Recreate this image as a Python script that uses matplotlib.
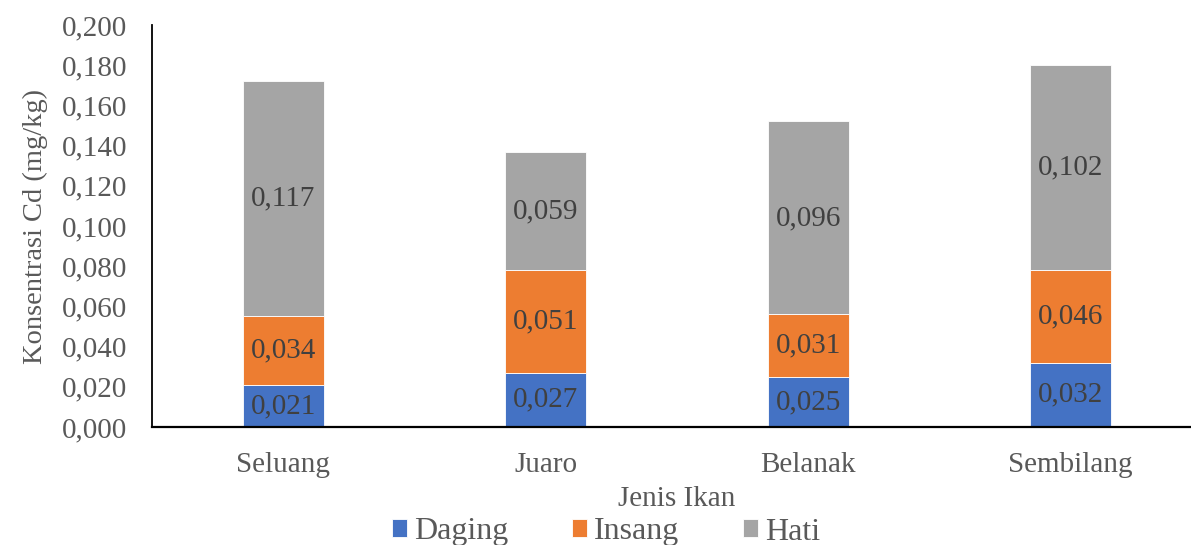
import numpy as np
import matplotlib.pyplot as plt
from matplotlib.ticker import FuncFormatter

# data
jenis_ikan = ['Seluang', 'Juaro', 'Belanak', 'Sembilang']
daging = [0.021, 0.027, 0.025, 0.032]
insang = [0.034, 0.051, 0.031, 0.046]
hati = [0.117, 0.059, 0.096, 0.102]
warna = ['#4472C4', '#ED7D31', '#A5A5A5']

plt.rcParams['font.family'] = ['Liberation Serif', 'DejaVu Serif']
abu = '#595959'

fig = plt.figure(figsize=(11.91, 5.45), dpi=100)
ax = fig.add_axes([152 / 1191, (545 - 427) / 545, 1050 / 1191, 402 / 545])

x = np.arange(len(jenis_ikan))
bawah = np.zeros(len(x))
for nama, nilai, c in zip(['Daging', 'Insang', 'Hati'], [daging, insang, hati], warna):
    bars = ax.bar(x, nilai, 0.31, bottom=bawah, color=c, label=nama,
                  edgecolor='white', linewidth=0.6)
    for b, v in zip(bars, nilai):
        ax.text(b.get_x() + b.get_width() / 2, b.get_y() + v / 2,
                f'{v:.3f}'.replace('.', ','), ha='center', va='center',
                fontsize=21, color='#404040')
    bawah += np.array(nilai)

ax.set_xlim(-0.5, 3.5)
ax.set_ylim(0, 0.2)
ax.set_yticks(np.arange(0, 0.201, 0.02))
ax.yaxis.set_major_formatter(FuncFormatter(lambda v, p: f'{v:.3f}'.replace('.', ',')))
ax.set_xticks(x)
ax.set_xticklabels(jenis_ikan)
ax.tick_params(axis='both', length=0, labelsize=21, colors=abu)
ax.tick_params(axis='y', pad=18)
ax.tick_params(axis='x', pad=18)

for s in ['top', 'right']:
    ax.spines[s].set_visible(False)
ax.spines['left'].set_linewidth(1.3)
ax.spines['bottom'].set_linewidth(1.6)

ax.set_ylabel('Konsentrasi Cd (mg/kg)', fontsize=20.5, color=abu, labelpad=10)
ax.set_xlabel('Jenis Ikan', fontsize=21, color=abu, labelpad=6)

fig.legend(loc='center', bbox_to_anchor=(606 / 1191, 1 - 532 / 545), ncol=3,
           frameon=False, fontsize=23, labelcolor=abu, handlelength=0.47,
           handleheight=0.47, columnspacing=2.0, handletextpad=0.22,
           borderaxespad=0, borderpad=0)

fig.savefig('out.png', dpi=100)
